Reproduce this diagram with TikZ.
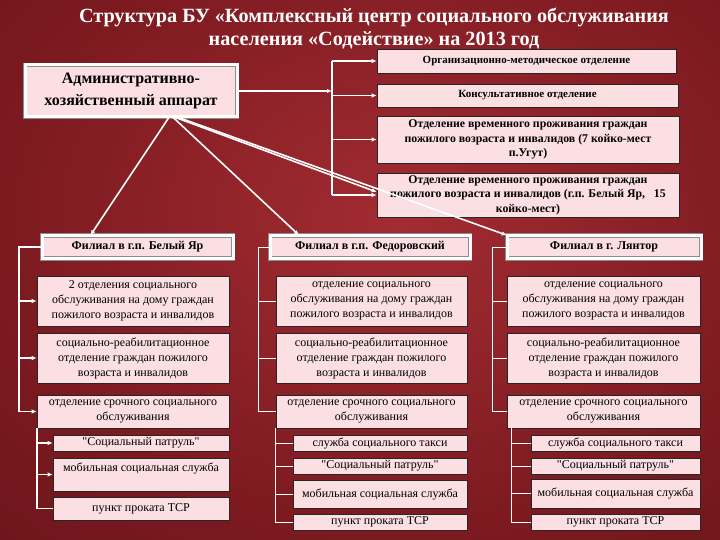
\documentclass[tikz,border=0pt]{standalone}
\usepackage{fontspec}
\setmainfont{Liberation Serif}
\newfontfamily\qfont{Liberation Serif}[Ligatures=ResetAll]
\newcommand{\qq}{{\qfont\symbol{34}}}
\usetikzlibrary{arrows.meta,calc,positioning}
\definecolor{bgA}{RGB}{162,44,50}
\definecolor{bgB}{RGB}{124,26,32}
\definecolor{bgC}{RGB}{56,8,12}
\definecolor{boxpink}{RGB}{251,223,226}
\pgfdeclareradialshading{bgshade}{\pgfpoint{0bp}{0bp}}{color(0bp)=(bgA); color(16bp)=(bgB); color(50bp)=(bgC)}

\begin{document}
\begin{tikzpicture}[x=1pt,y=-1pt,
box/.style={draw=black!85,line width=.6pt,fill=boxpink,inner sep=0pt,align=center,
  font=\fontsize{12}{15}\selectfont},
tbox/.style={box,font=\bfseries\fontsize{11.8}{14.5}\selectfont},
hdr/.style={box,draw=black!45,double=white,double distance=3pt,minimum height=23,
  font=\bfseries\fontsize{12}{13}\selectfont},
adm/.style={hdr,minimum width=212,minimum height=52,font=\bfseries\fontsize{16}{22}\selectfont},
ttl/.style={text=white,align=center,font=\bfseries\fontsize{20.2}{23}\selectfont},
arr/.style={draw=white,line width=1.6pt,-{Latex[length=5pt,width=4.5pt]}},
wl/.style={draw=white,line width=1.6pt},
ln/.style={draw=white,line width=1pt}]
\useasboundingbox (0,0) rectangle (720,540);
\begin{scope}
\clip (0,0) rectangle (720,540);
\shade[shading=bgshade] (-220,-260) rectangle (1020,700);
\end{scope}

\node[ttl] (TT) at (374,29) {Структура БУ «Комплексный центр социального обслуживания\\
населения «Содействие» на 2013 год};

\node[adm] (AX) at (131,91) {Административно-\\хозяйственный аппарат};
\node[tbox,minimum width=299,minimum height=24,font=\bfseries\fontsize{11}{12}\selectfont] (OM) at (526.5,61) {Организационно-методическое отделение};
\node[tbox,minimum width=301,minimum height=23,font=\bfseries\fontsize{11}{12}\selectfont] (KO) at (527.5,95.5) {Консультативное отделение};
\node[tbox,minimum width=302,minimum height=47] (T1) at (528,139.5) {Отделение временного проживания граждан\\
пожилого возраста и инвалидов (7 койко-мест\\п.Угут)};
\node[tbox,minimum width=302,minimum height=44] (T2) at (528,195) {Отделение временного проживания граждан\\
пожилого возраста и инвалидов (г.п. Белый Яр,\ \ \ 15\\койко-мест)};

\node[hdr,minimum width=191] (F1) at (137.5,247) {Филиал в г.п. Белый Яр};
\node[hdr,minimum width=200] (F2) at (370,247) {Филиал в г.п. Федоровский};
\node[hdr,minimum width=194] (F3) at (604,247) {Филиал в г. Лянтор};

\node[box,minimum width=192,minimum height=50] (A1) at (133,301) {2 отделения социального\\
обслуживания на дому граждан\\пожилого возраста и инвалидов};
\node[box,minimum width=192,minimum height=50] (A2) at (133,358) {социально-реабилитационное\\
отделение граждан пожилого\\возраста и инвалидов};
\node[box,minimum width=192,minimum height=33] (A3) at (133,411.5) {отделение срочного социального\\обслуживания};
\node[box,minimum width=176,minimum height=16] (A4) at (141,443) {\qq Социальный патруль\qq};
\node[box,minimum width=176,minimum height=33] (A5) at (141,474.5) {мобильная социальная служба\\\mbox{}};
\node[box,minimum width=176,minimum height=23] (A6) at (141,508.5) {пункт проката ТСР};

\node[box,minimum width=191,minimum height=50] (B1) at (371.5,301) {отделение социального\\
обслуживания на дому граждан\\пожилого возраста и инвалидов};
\node[box,minimum width=191,minimum height=50] (B2) at (371.5,358) {социально-реабилитационное\\
отделение граждан пожилого\\возраста и инвалидов};
\node[box,minimum width=191,minimum height=33] (B3) at (371.5,411.5) {отделение срочного социального\\обслуживания};
\node[box,minimum width=174,minimum height=16] (B4) at (380,443) {служба социального такси};
\node[box,minimum width=174,minimum height=16] (B5) at (380,466) {\qq Социальный патруль\qq};
\node[box,minimum width=174,minimum height=28] (B6) at (380,494) {мобильная социальная служба};
\node[box,minimum width=174,minimum height=16] (B7) at (380,522) {пункт проката ТСР};

\node[box,minimum width=193,minimum height=50] (C1) at (603.5,301) {отделение социального\\
обслуживания на дому граждан\\пожилого возраста и инвалидов};
\node[box,minimum width=193,minimum height=50] (C2) at (603.5,358) {социально-реабилитационное\\
отделение граждан пожилого\\возраста и инвалидов};
\node[box,minimum width=193,minimum height=33] (C3) at (603.5,411.5) {отделение срочного социального\\обслуживания};
\node[box,minimum width=169,minimum height=16] (C4) at (615.5,443) {служба социального такси};
\node[box,minimum width=169,minimum height=16] (C5) at (615.5,466) {\qq Социальный патруль\qq};
\node[box,minimum width=169,minimum height=29] (C6) at (615.5,493.5) {мобильная социальная служба};
\node[box,minimum width=169,minimum height=16] (C7) at (615.5,522) {пункт проката ТСР};

\coordinate (BT) at (332,61);
\coordinate (BA) at (19,247);
\coordinate (BB) at (258,247);
\coordinate (BC) at (492,247);

\draw[arr] (AX.east) -- (AX.east -| BT);
\draw[wl] (BT) -- (BT |- T2.west);
\draw[arr] (BT |- OM.west) -- (OM.west);
\draw[arr] (BT |- KO.west) -- (KO.west);
\draw[arr] (BT |- T1.west) -- (T1.west);
\draw[arr] (BT |- T2.west) -- (T2.west);

\draw[arr] ([xshift=38pt]AX.south) -- ([xshift=-47pt]F1.north);
\draw[arr] ([xshift=42pt]AX.south) -- ([xshift=-71pt]F2.north);
\draw[arr] ([xshift=44pt]AX.south) -- ([yshift=3pt]T2.west);
\draw[arr] ([xshift=47pt]AX.south) -- (F3.north west);

\draw[arr] (F1.west) -- (BA) |- (A3.west);
\draw[arr] (BA |- A1.west) -- (A1.west);
\draw[arr] (BA |- A2.west) -- (A2.west);
\draw[wl] (A3.south west) |- (A6.west);
\draw[arr] (A3.south west |- A4.west) -- (A4.west);
\draw[arr] (A3.south west |- A5.west) -- (A5.west);

\draw[ln] (F2.west) -- (BB) |- (B3.west);
\draw[ln] (BB |- B1.west) -- (B1.west);
\draw[ln] (BB |- B2.west) -- (B2.west);
\draw[ln] (B3.south west) |- (B7.west);
\draw[ln] (B3.south west |- B4.west) -- (B4.west);
\draw[ln] (B3.south west |- B5.west) -- (B5.west);
\draw[ln] (B3.south west |- B6.west) -- (B6.west);

\draw[ln] (F3.west) -- (BC) |- (C3.west);
\draw[ln] (BC |- C1.west) -- (C1.west);
\draw[ln] (BC |- C2.west) -- (C2.west);
\draw[ln] ([xshift=5pt]C3.south west) |- (C7.west);
\draw[ln] ([xshift=5pt]C3.south west |- C4.west) -- (C4.west);
\draw[ln] ([xshift=5pt]C3.south west |- C5.west) -- (C5.west);
\draw[ln] ([xshift=5pt]C3.south west |- C6.west) -- (C6.west);
\end{tikzpicture}
\end{document}
